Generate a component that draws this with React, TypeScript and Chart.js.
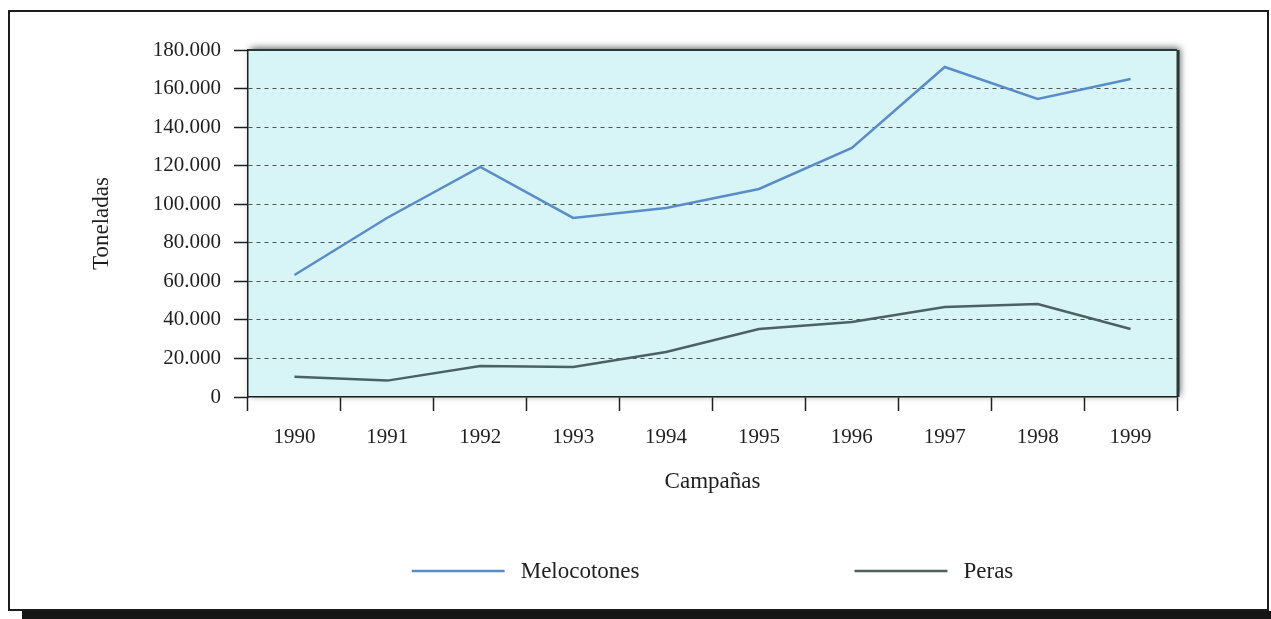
import React, { useEffect, useRef } from "react";
import { Chart, registerables } from "chart.js";

Chart.register(...registerables);

const campaigns = ["1990", "1991", "1992", "1993", "1994", "1995", "1996", "1997", "1998", "1999"];
const melocotones = [63300, 93000, 119300, 92900, 98000, 107900, 129200, 171200, 154600, 165000];
const peras = [10500, 8500, 16100, 15600, 23300, 35300, 38900, 46700, 48200, 35300];
const seriesLabels = ["Melocotones", "Peras"];
const seriesColors = ["#5a8dc8", "#4d6064"];
const yMin = 0;
const yMax = 180000;
const yStep = 20000;
const xTitle = "Campañas";
const yTitle = "Toneladas";

const FONT = "'Liberation Serif', 'Times New Roman', serif";
const INK = "#1f1f1f";

const fmt = (v: number) => String(Math.round(v)).replace(/\B(?=(\d{3})+(?!\d))/g, ".");

const plotBackground = {
  id: "plotBackground",
  beforeDraw(chart: any) {
    const { ctx, chartArea } = chart;
    const { left, top, right, bottom } = chartArea;
    ctx.save();
    ctx.shadowColor = "rgba(30,40,40,0.75)";
    ctx.shadowBlur = 7;
    ctx.shadowOffsetX = 3;
    ctx.shadowOffsetY = -2;
    ctx.fillStyle = "#d7f5f7";
    ctx.fillRect(left, top, right - left, bottom - top);
    ctx.restore();
    ctx.save();
    ctx.strokeStyle = "#2b3838";
    ctx.lineWidth = 2;
    ctx.beginPath();
    ctx.moveTo(left, top);
    ctx.lineTo(right, top);
    ctx.stroke();
    ctx.lineWidth = 3;
    ctx.beginPath();
    ctx.moveTo(right + 1, top);
    ctx.lineTo(right + 1, bottom);
    ctx.stroke();
    ctx.restore();
  },
};

const bottomLegend = {
  id: "bottomLegend",
  afterDraw(chart: any) {
    const { ctx, chartArea } = chart;
    const ds = chart.data.datasets;
    ctx.save();
    ctx.font = `23px ${FONT}`;
    const lineLen = 93;
    const gap = 16;
    const itemGap = 215;
    const widths = ds.map((d: any) => lineLen + gap + ctx.measureText(d.label).width);
    const total = widths.reduce((a: number, b: number) => a + b, 0) + itemGap * (ds.length - 1);
    let x = (chartArea.left + chartArea.right) / 2 - total / 2;
    const y = chart.height - 38;
    ds.forEach((d: any, i: number) => {
      ctx.strokeStyle = d.borderColor;
      ctx.lineWidth = 2.5;
      ctx.beginPath();
      ctx.moveTo(x, y);
      ctx.lineTo(x + lineLen, y);
      ctx.stroke();
      ctx.fillStyle = INK;
      ctx.textBaseline = "middle";
      ctx.textAlign = "left";
      ctx.fillText(d.label, x + lineLen + gap, y + 1);
      x += widths[i] + itemGap;
    });
    ctx.restore();
  },
};

export default function App() {
  const ref = useRef<HTMLCanvasElement>(null);

  useEffect(() => {
    const chart = new Chart(ref.current as HTMLCanvasElement, {
      type: "line",
      data: {
        labels: campaigns,
        datasets: [
          {
            label: seriesLabels[0],
            data: melocotones,
            borderColor: seriesColors[0],
            backgroundColor: seriesColors[0],
            borderWidth: 2.5,
            pointRadius: 0,
            tension: 0,
            fill: false,
          },
          {
            label: seriesLabels[1],
            data: peras,
            borderColor: seriesColors[1],
            backgroundColor: seriesColors[1],
            borderWidth: 2.5,
            pointRadius: 0,
            tension: 0,
            fill: false,
          },
        ],
      },
      options: {
        responsive: false,
        animation: false,
        layout: { padding: { top: 38, right: 90, left: 0, bottom: 0 } },
        plugins: { legend: { display: false }, tooltip: { enabled: false } },
        scales: {
          x: {
            type: "category",
            offset: true,
            grid: {
              offset: true,
              drawOnChartArea: false,
              drawTicks: true,
              tickLength: 14,
              tickColor: INK,
              tickWidth: 1.5,
            },
            border: { display: true, color: INK, width: 1.5 },
            ticks: {
              padding: 14,
              color: INK,
              font: { family: FONT, size: 21 },
              maxRotation: 0,
              autoSkip: false,
            },
            title: {
              display: true,
              text: xTitle,
              color: INK,
              font: { family: FONT, size: 23 },
              padding: { top: 0, bottom: 113 },
            },
            afterFit: (s: any) => {
              s.height = 212;
            },
          },
          y: {
            min: yMin,
            max: yMax,
            grid: {
              color: (c: any) =>
                c.tick && (c.tick.value === yMin || c.tick.value === yMax) ? "rgba(0,0,0,0)" : "#555",
              lineWidth: 1,
              drawTicks: true,
              tickLength: 14,
              tickColor: INK,
              tickWidth: 1.5,
            },
            border: { display: true, color: INK, width: 1.5, dash: [4, 4] },
            ticks: {
              stepSize: yStep,
              padding: 13,
              color: INK,
              font: { family: FONT, size: 21 },
              callback: (v: any) => fmt(Number(v)),
            },
            title: {
              display: true,
              text: yTitle,
              color: INK,
              font: { family: FONT, size: 23 },
              padding: { top: 78, bottom: 0 },
            },
            afterFit: (s: any) => {
              s.width = 238;
            },
          },
        },
      } as any,
      plugins: [plotBackground, bottomLegend],
    });
    return () => chart.destroy();
  }, []);

  return (
    <>
      <div
        style={{
          position: "fixed",
          left: 8,
          top: 10,
          width: 1261,
          height: 601,
          border: "2px solid #1c1c1c",
          boxSizing: "border-box",
          background: "#fff",
        }}
      >
        <canvas ref={ref} width={1257} height={597} style={{ display: "block", width: 1257, height: 597 }} />
      </div>
      <div
        style={{
          position: "fixed",
          left: 22,
          top: 611,
          width: 1249,
          height: 8,
          background: "#161616",
        }}
      />
    </>
  );
}
